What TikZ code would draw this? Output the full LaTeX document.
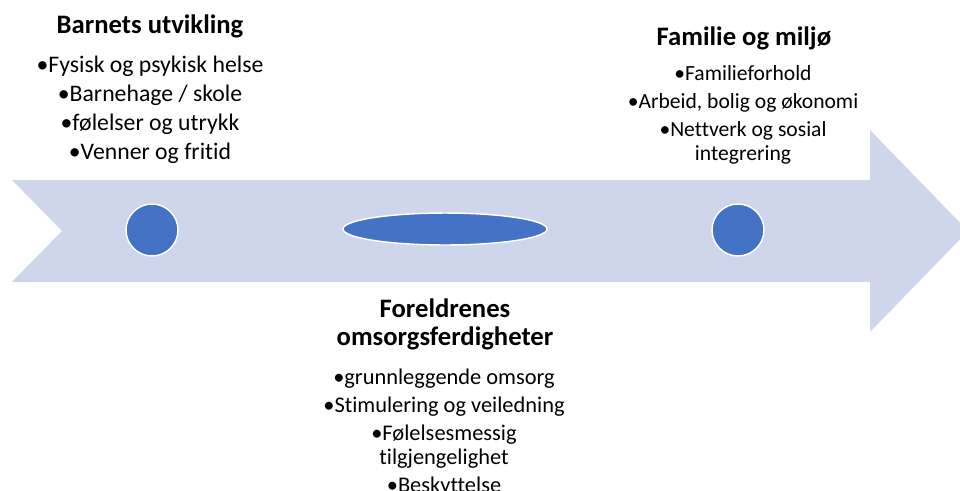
\documentclass[tikz,border=0pt]{standalone}
\usepackage{fontspec}
\setmainfont{Carlito}[Ligatures={NoCommon}]
\usepackage{xcolor}
\definecolor{lysblaa}{RGB}{207,213,234}
\definecolor{blaa}{RGB}{68,114,196}
\usetikzlibrary{shapes, positioning}

\begin{document}
\begin{tikzpicture}[x=0.75pt, y=-0.75pt,
        tittel/.style={font=\bfseries\fontsize{20}{21}\selectfont, align=center, inner sep=0pt},
        punkt/.style={align=center, inner sep=0pt, anchor=north},
        prikk/.style={circle, fill=blaa, draw=white, line width=1.1pt, minimum size=39pt, inner sep=0pt}]
        \useasboundingbox (0,0) rectangle (960,490);
        % Pila i bakgrunnen
        \fill[lysblaa] (12,180) -- (870,180) -- (870,130) -- (968,231) -- (870,332) -- (870,282) -- (12,282) -- (62,231) -- cycle;
        % Punktene på pila
        \node[prikk] (barn) at (152,230) {};
        \node[prikk, ellipse, minimum width=153pt, minimum height=24pt] (foreldre) at (445,229) {};
        \node[prikk] (familie) at (738,230) {};
        % Barnets utvikling
        \node[tittel, anchor=base] (barnTittel) at (150,33) {Barnets utvikling};
        \node[punkt, font=\fontsize{17.8}{21.75}\selectfont] (barnListe) at (150,56) {•Fysisk og psykisk helse\\•Barnehage / skole\\•følelser og utrykk\\•Venner og fritid};
        % Familie og miljø
        \node[tittel, anchor=base] (familieTittel) at (744,45) {Familie og miljø};
        \node[punkt, font=\fontsize{16.2}{21}\selectfont] (familieListe) at (743,65) {•Familieforhold\\•Arbeid, bolig og økonomi\\•Nettverk og sosial\\[-3pt]integrering};
        % Foreldrenes omsorgsferdigheter
        \node[tittel, anchor=north] (foreldreTittel) at (445,299) {Foreldrenes\\omsorgsferdigheter};
        \node[punkt, font=\fontsize{16.8}{21}\selectfont] (foreldreListe) at (444,369) {•grunnleggende omsorg\\•Stimulering og veiledning\\•Følelsesmessig\\[-3pt]tilgjengelighet\\•Beskyttelse};
    \end{tikzpicture}
\end{document}
